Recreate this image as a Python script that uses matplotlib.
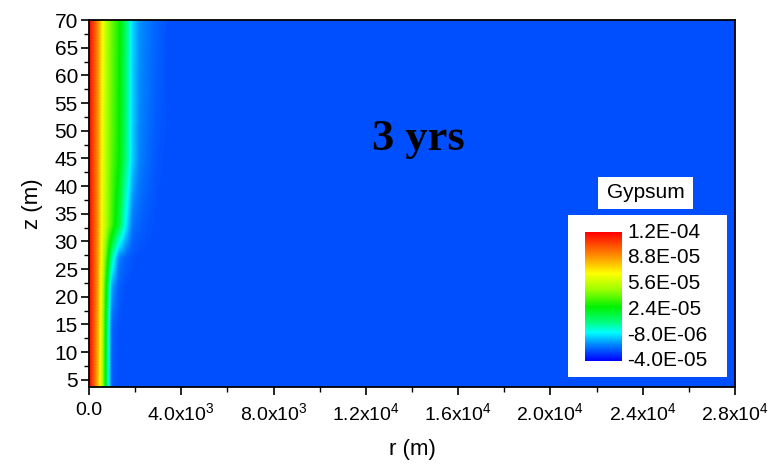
import numpy as np
import matplotlib
matplotlib.use("Agg")
import matplotlib.pyplot as plt
from matplotlib.colors import LinearSegmentedColormap, Normalize
from matplotlib.ticker import FixedLocator, MultipleLocator

plt.rcParams['font.family'] = ['Liberation Sans', 'DejaVu Sans']
plt.rcParams['mathtext.fontset'] = 'custom'
plt.rcParams['mathtext.rm'] = 'Liberation Sans'

# radial distance (m) and depth (m) of the grid
r_pts = [0, 200, 400, 600, 800, 1000, 1300, 1600, 1900, 2200, 2600, 3000, 3500, 28000]
z_pts = [3.7, 15, 22, 27, 33, 45, 55, 70]

# gypsum change (x1e-5), one row per z level
gyp = [
    [12.0, 10.3, 8.2, 5.0, 1.0, -2.6, -2.8, -2.8, -2.8, -2.8, -2.8, -2.8, -2.8, -2.8],
    [12.0, 10.4, 8.5, 5.3, 1.2, -2.4, -2.75, -2.8, -2.8, -2.8, -2.8, -2.8, -2.8, -2.8],
    [12.0, 10.5, 8.7, 5.6, 2.0, -1.5, -2.5, -2.75, -2.8, -2.8, -2.8, -2.8, -2.8, -2.8],
    [12.0, 10.5, 8.8, 6.0, 3.3, 0.5, -2.0, -2.5, -2.7, -2.8, -2.8, -2.8, -2.8, -2.8],
    [12.0, 10.5, 8.9, 6.4, 5.0, 3.6, 1.8, -0.5, -2.2, -2.5, -2.7, -2.8, -2.8, -2.8],
    [12.0, 10.5, 9.0, 6.5, 5.0, 4.0, 2.8, 1.0, -1.0, -2.0, -2.4, -2.7, -2.8, -2.8],
    [12.0, 10.5, 9.0, 6.6, 5.1, 4.1, 2.9, 1.1, -1.0, -1.9, -2.3, -2.6, -2.8, -2.8],
    [12.0, 10.6, 9.1, 6.8, 5.2, 4.2, 3.0, 1.2, -0.9, -1.8, -2.2, -2.5, -2.8, -2.8],
]

cbar_ticks = [-4.0e-5, -8.0e-6, 2.4e-5, 5.6e-5, 8.8e-5, 1.2e-4]
cbar_labels = ['-4.0E-05', '-8.0E-06', '2.4E-05', '5.6E-05', '8.8E-05', '1.2E-04']
x_ticks = [0, 4000, 8000, 12000, 16000, 20000, 24000, 28000]
x_labels = ['0.0', r'4.0x10$^3$', r'8.0x10$^3$', r'1.2x10$^4$', r'1.6x10$^4$',
            r'2.0x10$^4$', r'2.4x10$^4$', r'2.8x10$^4$']

cmap = LinearSegmentedColormap.from_list('origin_rainbow', [
    (0.0, (0, 0, 1)),
    (0.12, (0, 0.5, 1)),
    (0.22, (0, 1, 1)),
    (0.30, (0, 1, 0.5)),
    (0.42, (0, 0.95, 0)),
    (0.55, (0.6, 1, 0)),
    (0.68, (1, 1, 0)),
    (0.82, (1, 0.55, 0)),
    (1.0, (1, 0, 0)),
])
norm = Normalize(vmin=-4.0e-5, vmax=1.2e-4)

# refine the grid (bilinear) so the gouraud shading shows no triangle seams
C0 = np.array(gyp) * 1e-5
r_fine = np.concatenate([np.linspace(0, 3500, 176), [28000]])
z_fine = np.linspace(z_pts[0], z_pts[-1], 240)
Cr = np.array([np.interp(r_fine, r_pts, row) for row in C0])
C = np.column_stack([np.interp(z_fine, z_pts, Cr[:, j]) for j in range(len(r_fine))])
R, Z = np.meshgrid(r_fine, z_fine)

fig = plt.figure(figsize=(7.73, 4.66), dpi=100)
ax = fig.add_axes([89/773, 1-387/466, (735-89)/773, (387-20)/466])
ax.pcolormesh(R, Z, C, cmap=cmap, norm=norm, shading='gouraud')
ax.set_xlim(0, 28000)
ax.set_ylim(3.7, 70)

ax.xaxis.set_major_locator(FixedLocator(x_ticks))
ax.set_xticklabels(x_labels)
ax.xaxis.set_minor_locator(MultipleLocator(2000))
ax.set_yticks(range(5, 71, 5))
ax.yaxis.set_minor_locator(MultipleLocator(2.5))
ax.tick_params(which='major', direction='out', length=6, width=1.2, labelsize=15)
ax.tick_params(axis='x', labelsize=14, pad=5)
ax.tick_params(axis='y', pad=2)
ax.tick_params(which='minor', direction='out', length=3.5, width=1.0)
for s in ax.spines.values():
    s.set_linewidth(1.3)

ax.set_xlabel('r (m)', fontsize=16, labelpad=10)
ax.set_ylabel('z (m)', fontsize=16, labelpad=8)

ax.text(0.51, 0.675, '3 yrs', transform=ax.transAxes, ha='center', va='center',
        fontsize=32, fontweight='bold', family=['Liberation Serif', 'DejaVu Serif'])

# legend: white box, title box, colour bar
box = fig.add_axes([568/773, 1-377/466, (727-568)/773, (377-215)/466])
box.set_facecolor('white')
box.set_xticks([])
box.set_yticks([])
for s in box.spines.values():
    s.set_visible(False)

tbox = fig.add_axes([598/773, 1-209/466, (693-598)/773, (209-177)/466])
tbox.set_facecolor('white')
tbox.set_xticks([])
tbox.set_yticks([])
for s in tbox.spines.values():
    s.set_visible(False)
tbox.text(0.5, 0.5, 'Gypsum', ha='center', va='center', fontsize=15,
          transform=tbox.transAxes)

cax = fig.add_axes([585/773, 1-361/466, (622-585)/773, (361-232)/466])
grad = np.linspace(-4.0e-5, 1.2e-4, 256).reshape(-1, 1)
cax.imshow(grad, cmap=cmap, norm=norm, aspect='auto', origin='lower',
           extent=[0, 1, -4.0e-5, 1.2e-4])
cax.set_xticks([])
cax.set_yticks([])
cax.set_ylim(-4.0e-5, 1.2e-4)
for s in cax.spines.values():
    s.set_visible(False)
for v, lab in zip(cbar_ticks, cbar_labels):
    cax.text(1.15, v, lab, transform=cax.get_yaxis_transform(), ha='left', va='center',
             fontsize=15)

fig.savefig('out.png', dpi=100)
